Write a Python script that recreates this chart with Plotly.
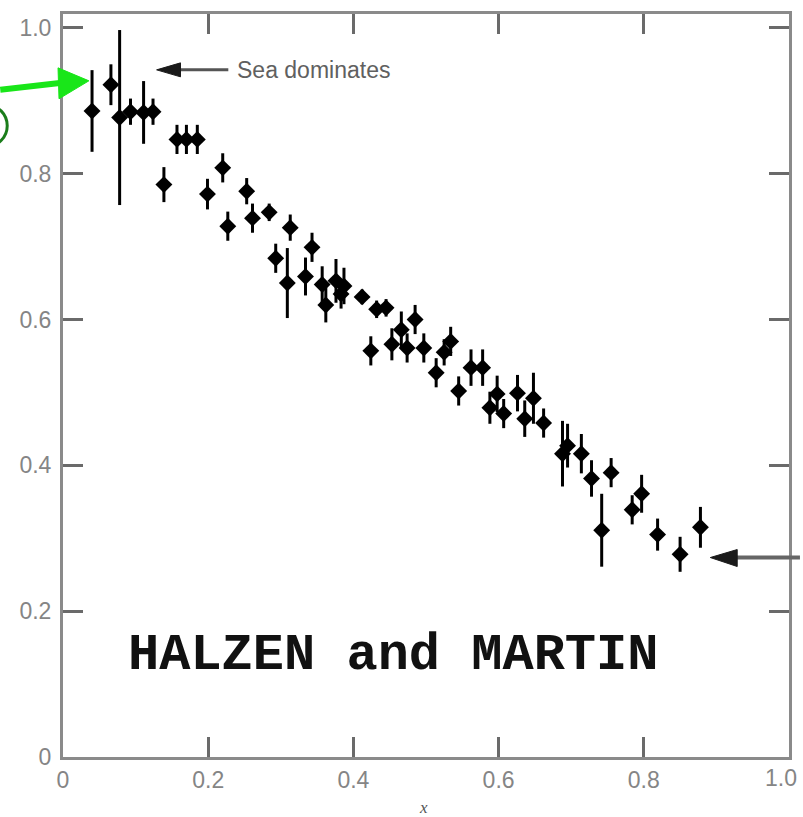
import plotly.graph_objects as go

# ---- data ----
x_vals = [0.040, 0.066, 0.078, 0.093, 0.111, 0.124, 0.139, 0.157, 0.170, 0.185,
          0.199, 0.220, 0.227, 0.253, 0.261, 0.284, 0.293, 0.309, 0.313, 0.334,
          0.343, 0.357, 0.362, 0.376, 0.383, 0.387, 0.412, 0.424, 0.432, 0.445,
          0.453, 0.466, 0.474, 0.485, 0.497, 0.514, 0.525, 0.534, 0.545, 0.562,
          0.578, 0.588, 0.598, 0.607, 0.626, 0.636, 0.648, 0.662, 0.688, 0.695,
          0.714, 0.728, 0.742, 0.755, 0.784, 0.797, 0.819, 0.850, 0.878]
y_vals = [0.886, 0.922, 0.877, 0.885, 0.884, 0.885, 0.785, 0.847, 0.847, 0.847,
          0.772, 0.808, 0.728, 0.776, 0.739, 0.747, 0.684, 0.650, 0.726, 0.659,
          0.699, 0.648, 0.620, 0.653, 0.635, 0.646, 0.631, 0.557, 0.614, 0.616,
          0.566, 0.586, 0.561, 0.600, 0.561, 0.527, 0.555, 0.570, 0.502, 0.534,
          0.534, 0.479, 0.498, 0.471, 0.499, 0.464, 0.492, 0.458, 0.416, 0.427,
          0.416, 0.382, 0.311, 0.390, 0.339, 0.361, 0.305, 0.278, 0.315]
y_errs = [0.056, 0.028, 0.120, 0.018, 0.043, 0.018, 0.024, 0.020, 0.020, 0.020,
          0.021, 0.020, 0.020, 0.018, 0.020, 0.012, 0.020, 0.048, 0.018, 0.026,
          0.020, 0.025, 0.024, 0.030, 0.020, 0.025, 0.010, 0.020, 0.012, 0.012,
          0.022, 0.025, 0.020, 0.020, 0.020, 0.020, 0.018, 0.020, 0.020, 0.025,
          0.025, 0.022, 0.025, 0.020, 0.025, 0.025, 0.035, 0.020, 0.045, 0.030,
          0.027, 0.025, 0.050, 0.020, 0.020, 0.026, 0.022, 0.024, 0.028]
tick_vals = [0, 0.2, 0.4, 0.6, 0.8, 1.0]
tick_text = ["0", "0.2", "0.4", "0.6", "0.8", "1.0"]
label_text = "HALZEN and MARTIN"
sea_text = "Sea dominates"

# ---- geometry helpers (pixel -> paper) ----
L, R, T, B = 63, 11, 12, 60
W, H = 803, 817
PW, PH = W - L - R, H - T - B


def px(x):
    return (x - L) / PW


def py(y):
    return (H - B - y) / PH


tick_font = dict(family="Liberation Sans, Arial, sans-serif", size=23, color="#858585")

fig = go.Figure()
fig.add_trace(go.Scatter(
    x=x_vals, y=y_vals, mode="markers",
    marker=dict(symbol="diamond", size=13, color="black", line=dict(width=0)),
    error_y=dict(type="data", array=y_errs, visible=True, thickness=3, width=0, color="black"),
    showlegend=False, hoverinfo="x+y",
))

axis_common = dict(
    showgrid=False, zeroline=False, showline=True, linecolor="#8a8a8a", linewidth=3,
    mirror="ticks", ticks="inside", ticklen=20, tickwidth=3, tickcolor="#6a6a6a",
    tickfont=tick_font,
)
# last x label (1.0) is drawn as an annotation kept just inside the page edge
fig.update_xaxes(range=[0, 1.0], tickvals=tick_vals, ticktext=tick_text[:-1] + [""], **axis_common)
fig.update_yaxes(range=[0, 1.019], tickvals=tick_vals, ticktext=tick_text, ticklabelstandoff=4, **axis_common)

shapes = []
# green arrow + circle
shapes.append(dict(type="line", xref="paper", yref="paper",
                   x0=px(0), y0=py(88), x1=px(62), y1=py(81),
                   line=dict(color="#19e619", width=6)))
shapes.append(dict(type="path", xref="paper", yref="paper",
                   path=f"M {px(58)},{py(66)} L {px(89)},{py(79)} L {px(59)},{py(97)} Z",
                   fillcolor="#19e619", line=dict(color="#19e619", width=1)))
shapes.append(dict(type="circle", xref="paper", yref="paper",
                   x0=px(-35), y0=py(145), x1=px(7), y1=py(103),
                   line=dict(color="#1b7d1b", width=3)))
# "Sea dominates" arrow
shapes.append(dict(type="line", xref="paper", yref="paper",
                   x0=px(175), y0=py(68), x1=px(229), y1=py(68),
                   line=dict(color="#555555", width=3)))
shapes.append(dict(type="path", xref="paper", yref="paper",
                   path=f"M {px(157)},{py(68)} L {px(181)},{py(61)} L {px(181)},{py(75)} Z",
                   fillcolor="#1a1a1a", line=dict(color="#1a1a1a", width=1)))
# right-hand arrow
shapes.append(dict(type="line", xref="paper", yref="paper",
                   x0=px(736), y0=py(557), x1=px(803), y1=py(557),
                   line=dict(color="#666666", width=4)))
shapes.append(dict(type="path", xref="paper", yref="paper",
                   path=f"M {px(713)},{py(557)} L {px(740)},{py(549)} L {px(740)},{py(566)} Z",
                   fillcolor="#1a1a1a", line=dict(color="#1a1a1a", width=1)))

annotations = [
    dict(xref="paper", yref="paper", x=px(236), y=py(68), xanchor="left", yanchor="middle",
         text=sea_text, showarrow=False,
         font=dict(family="Liberation Sans, Arial, sans-serif", size=23, color="#606060")),
    dict(xref="paper", yref="paper", x=px(802), y=py(778), xanchor="right", yanchor="middle",
         text=tick_text[-1], showarrow=False, font=tick_font),
    dict(xref="paper", yref="paper", x=px(395), y=py(655), xanchor="center", yanchor="middle",
         text=f"<b>{label_text}</b>", showarrow=False,
         font=dict(family="Liberation Mono, Courier New, monospace", size=52, color="#111111")),
    dict(xref="paper", yref="paper", x=px(425), y=py(808), xanchor="center", yanchor="middle",
         text="<i>x</i>", showarrow=False,
         font=dict(family="Liberation Serif, Times New Roman, serif", size=17, color="#555555")),
]

fig.update_layout(
    width=W, height=H, autosize=False,
    margin=dict(l=L, r=R, t=T, b=B, pad=0),
    paper_bgcolor="white", plot_bgcolor="white",
    shapes=shapes, annotations=annotations, showlegend=False,
)

fig.write_html("out.html")
